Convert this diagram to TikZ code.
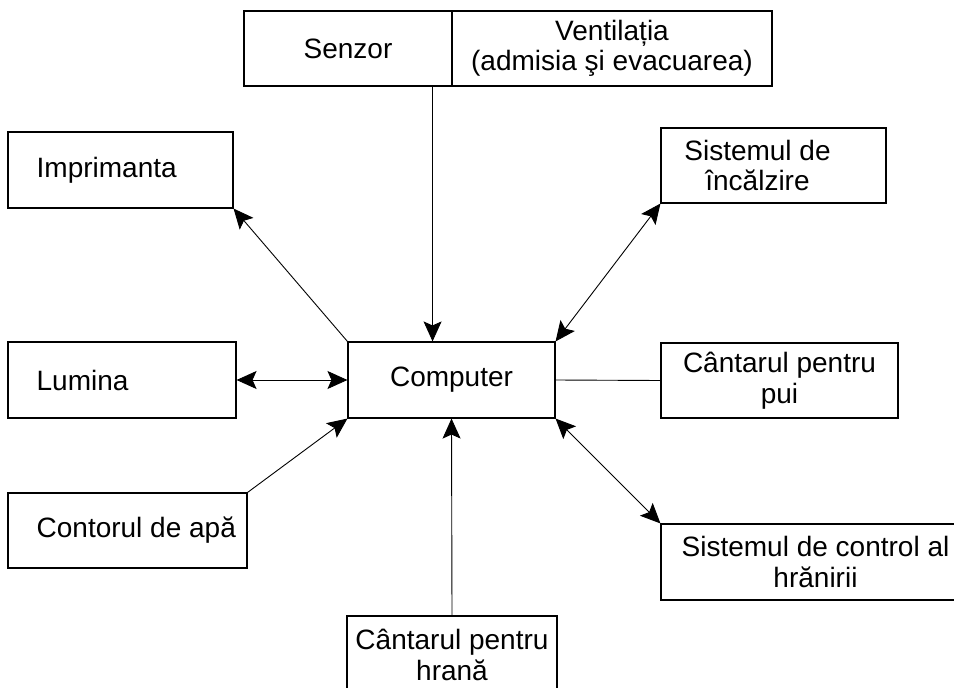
\documentclass[tikz,border=0pt]{standalone}
\usepackage{fontspec}
\setmainfont{Liberation Sans}
\usepackage{tikz}
\usetikzlibrary{arrows.meta}

\tikzset{
    box/.style={draw, line width=1.1pt, inner sep=0pt, align=center, font=\fontsize{28}{30.5}\selectfont},
    txt/.style={inner sep=0pt, align=center, font=\fontsize{28}{30.5}\selectfont},
    link/.style={line width=0.9pt},
    >={Stealth[length=20pt, width=18pt, inset=4pt]}
}

\begin{document}
\begin{tikzpicture}[x=1pt, y=-1pt]
    \useasboundingbox (0,0) rectangle (954,688);
    % top row
    \node[box, minimum width=208pt, minimum height=75pt] (senzor) at (348,48.5) {Senzor};
    \node[box, minimum width=320pt, minimum height=75pt] (vent) at (612,48.5) {Ventilația\\(admisia şi evacuarea)};
    % left column
    \node[box, minimum width=225pt, minimum height=76pt,
        label={[txt, anchor=west, xshift=29pt]west:Imprimanta}] (print) at (120.5,170) {};
    \node[box, minimum width=228pt, minimum height=76pt,
        label={[txt, anchor=west, xshift=29pt]west:Lumina}] (light) at (122,380) {};
    \node[box, minimum width=239pt, minimum height=75pt,
        label={[txt, anchor=west, xshift=29pt]west:Contorul de apă}] (water) at (127.5,530.5) {};
    % middle
    \node[box, minimum width=207pt, minimum height=76pt] (comp) at (451.5,380) {Computer};
    \node[box, minimum width=210pt, minimum height=78pt] (feedscale) at (452,655) {Cântarul pentru\\hrană};
    % right column
    \node[box, minimum width=225pt, minimum height=75pt,
        label={[txt, xshift=-16pt]center:Sistemul de\\încălzire}] (heat) at (773.5,165.5) {};
    \node[box, minimum width=237pt, minimum height=75pt] (chick) at (779.5,380.5) {Cântarul pentru\\pui};
    \node[box, minimum width=309pt, minimum height=76pt] (ctrl) at (815.5,562) {Sistemul de control al\\hrănirii};

    % connectors
    \coordinate (s1) at ([xshift=-20pt]senzor.south east);
    \draw[link, ->] (s1) -- (s1 |- comp.north);
    \draw[link, ->] (comp.north west) -- (print.south east);
    \draw[link, <->] (light.east) -- (comp.west);
    \draw[link, ->] (water.north east) -- (comp.south west);
    \draw[link, ->] (feedscale.north) -- (comp.south);
    \draw[link, <->] (heat.south west) -- (comp.north east);
    \draw[link] (comp.east) -- (chick.west);
    \draw[link, <->] (comp.south east) -- (ctrl.north west);
\end{tikzpicture}
\end{document}
